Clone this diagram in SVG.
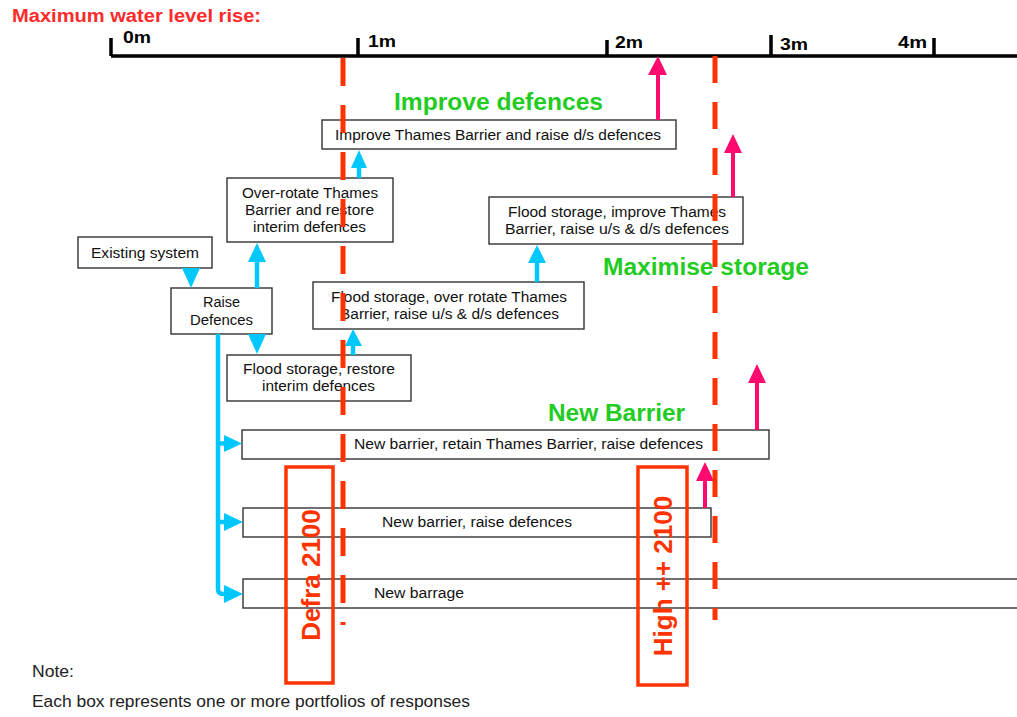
<svg xmlns="http://www.w3.org/2000/svg" width="1017" height="717" viewBox="0 0 1017 717">
<style>
.box{fill:#fff;stroke:#333;stroke-width:1.4}
.bt{font-family:"Liberation Sans",Arial,sans-serif;font-size:14px;fill:#111}
.green{font-family:"Liberation Sans",Arial,sans-serif;font-size:24px;font-weight:bold;fill:#22cc22}
.axl{font-family:"Liberation Sans",Arial,sans-serif;font-size:16px;font-weight:bold;fill:#000}
.redv{font-family:"Liberation Sans",Arial,sans-serif;font-size:26px;font-weight:bold;fill:#ff3300}
.note{font-family:"Liberation Sans",Arial,sans-serif;font-size:16px;fill:#222}
.dash{stroke:#ff3300;stroke-width:5;fill:none}
.cy{stroke:#00c8ff;stroke-width:4.5;fill:none}
.cyh{fill:#00c8ff}
.pk{stroke:#ff0a6e;stroke-width:4;fill:none}
.pkh{fill:#ff0a6e}
.rr{fill:none;stroke:#ff3300;stroke-width:3.5}
</style>
<rect width="1017" height="717" fill="#fff"/>
<text x="12" y="22" font-family="Liberation Sans,Arial,sans-serif" font-size="18" font-weight="bold" fill="#ff2a2a" textLength="249" lengthAdjust="spacingAndGlyphs">Maximum water level rise:</text>
<g id="axis">
<path d="M111 56H1017M111 38V56M358 38V56M607 40V56M771 35V56M934 38V56" stroke="#000" stroke-width="3.5" fill="none"/>
<text class="axl" x="123" y="43" textLength="28" lengthAdjust="spacingAndGlyphs">0m</text>
<text class="axl" x="368" y="47" textLength="28" lengthAdjust="spacingAndGlyphs">1m</text>
<text class="axl" x="615" y="48" textLength="28" lengthAdjust="spacingAndGlyphs">2m</text>
<text class="axl" x="780" y="50" textLength="28" lengthAdjust="spacingAndGlyphs">3m</text>
<text class="axl" x="898" y="48" textLength="29" lengthAdjust="spacingAndGlyphs">4m</text>
</g>
<g id="labels">
<text class="green" x="394" y="110" textLength="209" lengthAdjust="spacingAndGlyphs">Improve defences</text>
<text class="green" x="603" y="275" textLength="206" lengthAdjust="spacingAndGlyphs">Maximise storage</text>
<text class="green" x="548" y="421" textLength="137" lengthAdjust="spacingAndGlyphs">New Barrier</text>
</g>
<g id="n-improve">
<rect class="box" x="322" y="120" width="354" height="29"/>
<text class="bt" x="335" y="140" textLength="326" lengthAdjust="spacingAndGlyphs">Improve Thames Barrier and raise d/s defences</text>
</g>
<g id="n-overrotate">
<rect class="box" x="227" y="178" width="166" height="64"/>
<text class="bt" x="242" y="198" textLength="136" lengthAdjust="spacingAndGlyphs">Over-rotate Thames</text>
<text class="bt" x="245" y="215" textLength="129" lengthAdjust="spacingAndGlyphs">Barrier and restore</text>
<text class="bt" x="253" y="232" textLength="113" lengthAdjust="spacingAndGlyphs">interim defences</text>
</g>
<g id="n-existing">
<rect class="box" x="78" y="237" width="134" height="31"/>
<text class="bt" x="91" y="258" textLength="108" lengthAdjust="spacingAndGlyphs">Existing system</text>
</g>
<g id="n-raise">
<rect class="box" x="171" y="288" width="101" height="46"/>
<text class="bt" x="203" y="307" textLength="37" lengthAdjust="spacingAndGlyphs">Raise</text>
<text class="bt" x="190" y="325" textLength="63" lengthAdjust="spacingAndGlyphs">Defences</text>
</g>
<g id="n-floodrestore">
<rect class="box" x="227" y="355" width="184" height="46"/>
<text class="bt" x="243" y="374" textLength="152" lengthAdjust="spacingAndGlyphs">Flood storage, restore</text>
<text class="bt" x="262" y="391" textLength="113" lengthAdjust="spacingAndGlyphs">interim defences</text>
</g>
<g id="n-floodover">
<rect class="box" x="313" y="282" width="271" height="47"/>
<text class="bt" x="331" y="302" textLength="236" lengthAdjust="spacingAndGlyphs">Flood storage, over rotate Thames</text>
<text class="bt" x="340" y="319" textLength="219" lengthAdjust="spacingAndGlyphs">Barrier, raise u/s &amp; d/s defences</text>
</g>
<g id="n-floodimprove">
<rect class="box" x="489" y="197" width="254" height="47"/>
<text class="bt" x="508" y="217" textLength="218" lengthAdjust="spacingAndGlyphs">Flood storage, improve Thames</text>
<text class="bt" x="505" y="234" textLength="224" lengthAdjust="spacingAndGlyphs">Barrier, raise u/s &amp; d/s defences</text>
</g>
<g id="n-newbarrier-retain">
<rect class="box" x="242" y="430" width="527" height="29"/>
<text class="bt" x="354" y="449" textLength="349" lengthAdjust="spacingAndGlyphs">New barrier, retain Thames Barrier, raise defences</text>
</g>
<g id="n-newbarrier">
<rect class="box" x="243" y="508" width="468" height="29"/>
<text class="bt" x="382" y="527" textLength="190" lengthAdjust="spacingAndGlyphs">New barrier, raise defences</text>
</g>
<g id="n-barrage">
<rect class="box" x="243" y="579" width="800" height="29"/>
<text class="bt" x="374" y="598" textLength="90" lengthAdjust="spacingAndGlyphs">New barrage</text>
</g>
<g id="connectors">
<polygon class="cyh" points="182,268 200,268 191,288"/>
<path class="cy" d="M257 288V260"/>
<polygon class="cyh" points="248,262 266,262 257,243"/>
<polygon class="cyh" points="248,334 266,334 257,354"/>
<path class="cy" d="M359 178V166"/>
<polygon class="cyh" points="351,168 367,168 359,150"/>
<path class="cy" d="M353 355V344"/>
<polygon class="cyh" points="345,346 362,346 353,329"/>
<path class="cy" d="M537 282V261"/>
<polygon class="cyh" points="528,263 546,263 537,245"/>
<path class="cy" d="M218 334V589Q218 594 223 594H226M218 443.5H226M218 522H226"/>
<polygon class="cyh" points="224,435 224,452 242,443.5"/>
<polygon class="cyh" points="224,513 224,531 243,522"/>
<polygon class="cyh" points="224,585 224,603 243,594"/>
<path class="pk" d="M658 120V73"/>
<polygon class="pkh" points="648,75 667,75 658,56"/>
<path class="pk" d="M733 197V151"/>
<polygon class="pkh" points="724,153 742,153 733,134"/>
<path class="pk" d="M757 430V381"/>
<polygon class="pkh" points="748,383 766,383 757,364"/>
<path class="pk" d="M705 508V479"/>
<polygon class="pkh" points="696,481 714,481 705,462"/>
</g>
<g id="n-defra">
<rect class="rr" x="286" y="467" width="47" height="216"/>
<text class="redv" transform="translate(320,575) rotate(-90)" text-anchor="middle">Defra 2100</text>
</g>
<g id="n-high">
<rect class="rr" x="638" y="467" width="49" height="218"/>
<text class="redv" transform="translate(672,576) rotate(-90)" text-anchor="middle">High ++ 2100</text>
</g>
<g id="thresholds">
<path class="dash" d="M343 58V625" stroke-dasharray="28 19"/>
<path class="dash" d="M715 56V620" stroke-dasharray="27 19"/>
</g>
<g id="note">
<text class="note" x="32" y="677" textLength="42" lengthAdjust="spacingAndGlyphs">Note:</text>
<text class="note" x="32" y="707" textLength="438" lengthAdjust="spacingAndGlyphs">Each box represents one or more portfolios of responses</text>
</g>
</svg>
